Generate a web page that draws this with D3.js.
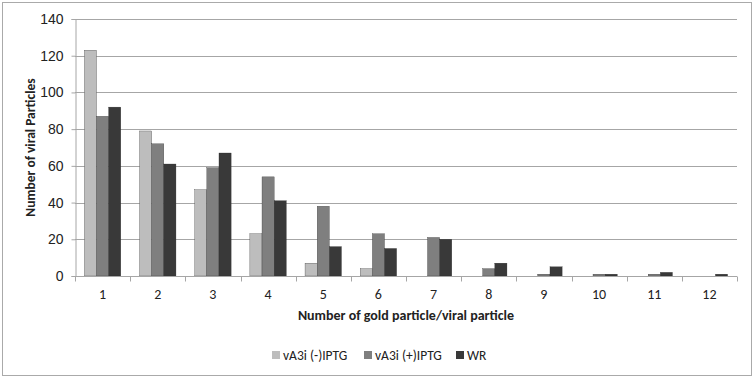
<!DOCTYPE html>
<html>
<head>
<meta charset="utf-8">
<script src="https://cdn.jsdelivr.net/npm/d3@7"></script>
<style>
  body { margin: 0; background: #fff; }
  svg { font-family: Carlito, 'Open Sans', sans-serif; }
</style>
</head>
<body>
<svg id="chart"></svg>
<script>
const categories = ['1', '2', '3', '4', '5', '6', '7', '8', '9', '10', '11', '12']
const seriesNames = ['vA3i (-)IPTG', 'vA3i (+)IPTG', 'WR']
const minusIptg = [123, 79, 47, 23, 7, 4, 0, 0, 0, 0, 0, 0]
const plusIptg = [87, 72, 59, 54, 38, 23, 21, 4, 1, 1, 1, 0]
const wr = [92, 61, 67, 41, 16, 15, 20, 7, 5, 1, 2, 1]
const yTicks = [0, 20, 40, 60, 80, 100, 120, 140]
const colors = ['#bdbdbd', '#7f7f7f', '#393939']

const width = 755
const height = 380
const margin = { top: 19, right: 18, bottom: 104, left: 75 }

const svg = d3.select('#chart').attr('width', width).attr('height', height)

// outer frame
svg.append('rect')
  .attr('x', 2.5).attr('y', 2.5)
  .attr('width', 749).attr('height', 373)
  .attr('fill', 'none').attr('stroke', '#aaa').attr('stroke-width', 1)

const x = d3.scaleBand().domain(categories)
  .range([margin.left, width - margin.right]).paddingInner(0.34).paddingOuter(0.17)
const xSub = d3.scaleBand().domain(seriesNames).range([0, x.bandwidth()])
const y = d3.scaleLinear().domain([0, 140]).range([height - margin.bottom, margin.top])

// gridlines
svg.append('g')
  .selectAll('line')
  .data(yTicks.slice(1))
  .enter()
  .append('line')
  .attr('x1', margin.left).attr('x2', width - margin.right)
  .attr('y1', d => Math.round(y(d)) + 0.5).attr('y2', d => Math.round(y(d)) + 0.5)
  .attr('stroke', '#a6a6a6').attr('stroke-width', 1)

// bars, one group per series
const data = [minusIptg, plusIptg, wr]
seriesNames.forEach((name, i) => {
  svg.append('g')
    .selectAll('rect')
    .data(data[i].map((v, j) => ({ cat: categories[j], v })).filter(d => d.v > 0))
    .enter()
    .append('rect')
    .attr('x', d => x(d.cat) + xSub(name))
    .attr('y', d => y(d.v))
    .attr('width', xSub.bandwidth())
    .attr('height', d => y(0) - y(d.v))
    .attr('fill', colors[i])
    .attr('stroke', '#2a2a2a').attr('stroke-width', 0.3)
})

// y axis
const yAxis = svg.append('g')
  .attr('transform', `translate(${margin.left + 0.5},0)`)
  .call(d3.axisLeft(y).tickValues(yTicks).tickSize(4).tickPadding(8))
yAxis.select('.domain').attr('stroke', '#a6a6a6')
yAxis.selectAll('.tick line').attr('stroke', '#a6a6a6')
yAxis.selectAll('text').attr('font-size', 14).attr('fill', '#222')

// x axis
const xAxisG = svg.append('g')
  .attr('transform', `translate(0,${Math.round(y(0)) + 0.5})`)
xAxisG.append('line')
  .attr('x1', margin.left).attr('x2', width - margin.right)
  .attr('stroke', '#a6a6a6')
const boundaries = d3.range(categories.length + 1)
  .map(i => margin.left + i * (width - margin.right - margin.left) / categories.length)
xAxisG.selectAll('line.tk')
  .data(boundaries)
  .enter()
  .append('line')
  .attr('class', 'tk')
  .attr('x1', d => Math.round(d) + 0.5).attr('x2', d => Math.round(d) + 0.5)
  .attr('y1', 0).attr('y2', 5)
  .attr('stroke', '#a6a6a6')
xAxisG.selectAll('text')
  .data(categories)
  .enter()
  .append('text')
  .attr('x', d => x(d) + x.bandwidth() / 2)
  .attr('y', 22)
  .attr('text-anchor', 'middle')
  .attr('font-size', 14)
  .attr('fill', '#222')
  .text(d => d)

// axis titles
svg.append('text')
  .attr('transform', `translate(35,${(y(0) + y(140)) / 2}) rotate(-90)`)
  .attr('text-anchor', 'middle')
  .attr('font-size', 13.5).attr('font-weight', 'bold').attr('fill', '#222')
  .text('Number of viral Particles')

svg.append('text')
  .attr('x', 406)
  .attr('y', 320)
  .attr('text-anchor', 'middle')
  .attr('font-size', 14).attr('font-weight', 'bold').attr('fill', '#222')
  .text('Number of gold particle/viral particle')

// legend
const legendX = [272, 364, 456]
const legend = svg.append('g')
seriesNames.forEach((name, i) => {
  legend.append('rect')
    .attr('x', legendX[i]).attr('y', 351)
    .attr('width', 8).attr('height', 8)
    .attr('fill', colors[i])
  legend.append('text')
    .attr('x', legendX[i] + 11).attr('y', 360)
    .attr('font-size', 13.5).attr('fill', '#222')
    .text(name)
})
</script>
</body>
</html>
